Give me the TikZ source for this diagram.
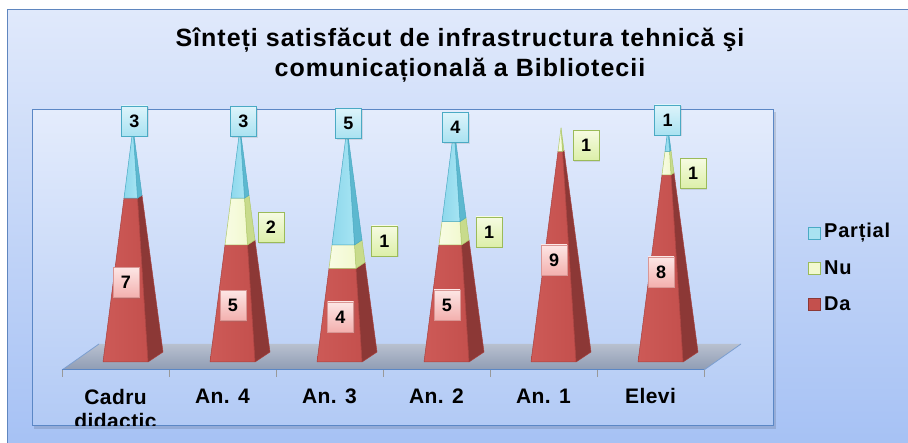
\documentclass[tikz,border=0pt]{standalone}
\usepackage{fontspec}
\setmainfont{Liberation Sans}
\newfontfamily\titlefont[LetterSpace=4]{Liberation Sans}
\newfontfamily\catfont[LetterSpace=2]{Liberation Sans}
\newfontfamily\legfont[LetterSpace=4]{Liberation Sans}
\usetikzlibrary{shadows}
\definecolor{panelTop}{HTML}{E0E9FB}
\definecolor{panelBot}{HTML}{A4C0F4}
\definecolor{panelEdge}{HTML}{5F86BF}
\definecolor{plotTop}{HTML}{E4ECFC}
\definecolor{plotBot}{HTML}{B2CAF5}
\definecolor{plotEdge}{HTML}{5B87C5}
\definecolor{floorTop}{HTML}{B8C0CF}
\definecolor{floorBot}{HTML}{8F9CB4}
\definecolor{daF}{HTML}{C4504D}
\definecolor{daFL}{HTML}{CD5A57}
\definecolor{daS}{HTML}{8C3836}
\definecolor{daE}{HTML}{A8413E}
\definecolor{nuF}{HTML}{F2F9CF}
\definecolor{nuFL}{HTML}{F8FCE4}
\definecolor{nuS}{HTML}{C8DB8C}
\definecolor{nuE}{HTML}{B0C96A}
\definecolor{paF}{HTML}{A6E4F3}
\definecolor{paFL}{HTML}{8ED8EC}
\definecolor{paS}{HTML}{5DB8CF}
\definecolor{paE}{HTML}{4AAAC4}
\definecolor{paL1}{HTML}{DDF4FB}
\definecolor{paL2}{HTML}{A9E2F1}
\definecolor{nuL1}{HTML}{F6FBE2}
\definecolor{nuL2}{HTML}{DCEFA8}
\definecolor{nuB}{HTML}{9BBB59}
\definecolor{daL1}{HTML}{FDE6E5}
\definecolor{daL2}{HTML}{F3B0AE}
\definecolor{daB}{HTML}{D99694}
% #1 axis x, #2 t0, #3 t1, #4 front left colour, #5 front right colour, #6 side, #7 edge
\newcommand\pyrseg[7]{%
  \filldraw[fill=#6, draw=#7, line width=0.5pt, line join=round]
    ({#1+15*(1-#2)},{362-234*#2}) -- ({#1+30*(1-#2)},{352-224*#2})
    -- ({#1+30*(1-#3)},{352-224*#3}) -- ({#1+15*(1-#3)},{362-234*#3}) -- cycle;
  \path[left color=#4, right color=#5]
    ({#1-30*(1-#2)},{362-234*#2}) -- ({#1+15*(1-#2)},{362-234*#2})
    -- ({#1+15*(1-#3)},{362-234*#3}) -- ({#1-30*(1-#3)},{362-234*#3}) -- cycle;
  \draw[draw=#7, line width=0.5pt, line join=round]
    ({#1-30*(1-#2)},{362-234*#2}) -- ({#1+15*(1-#2)},{362-234*#2})
    -- ({#1+15*(1-#3)},{362-234*#3}) -- ({#1-30*(1-#3)},{362-234*#3}) -- cycle;
}
\tikzset{
  lbl/.style={minimum width=26pt, minimum height=30pt, inner sep=0pt,
    font=\fontsize{18}{18}\selectfont\bfseries, line width=0.8pt,
    drop shadow={shadow xshift=1.2pt, shadow yshift=-1.2pt, opacity=0.2}},
  lblpa/.style={lbl, draw=paE, top color=paL1, bottom color=paL2},
  lblnu/.style={lbl, draw=nuB, top color=nuL1, bottom color=nuL2},
  lblda/.style={lbl, draw=daB, top color=daL1, bottom color=daL2},
  catlbl/.style={font=\catfont\bfseries\fontsize{21}{24}\selectfont, inner sep=0pt, align=center},
  legbox/.style={minimum size=12pt, inner sep=0pt, line width=0.8pt},
  legtxt/.style={font=\legfont\bfseries\fontsize{20}{20}\selectfont, inner sep=0pt, anchor=west}
}
\begin{document}
\begin{tikzpicture}[x=1pt,y=-1pt]
\useasboundingbox (0,0) rectangle (908,443);
\clip (0,0) rectangle (908,443);
\fill[white] (0,0) rectangle (908,443);
% outer panel
\draw[panelEdge, line width=1pt, top color=panelTop, bottom color=panelBot] (7,10) rectangle (930,460);
% plot area
\fill[black, opacity=0.12] (34,112) rectangle (776,429);
\draw[plotEdge, line width=1pt, top color=plotTop, bottom color=plotBot] (32,110) rectangle (773,426);
% title
\node[font=\titlefont\bfseries\fontsize{25}{30}\selectfont, align=center, inner sep=0pt, anchor=north]
  (title) at (460,28) {Sînteți satisfăcut de infrastructura tehnică şi\\comunicațională a Bibliotecii};
% floor
\path[top color=floorTop, bottom color=floorBot] (62,370) -- (704,370) -- (741,344) -- (99,344) -- cycle;
\draw[plotEdge!80!white, line width=0.8pt] (62,370) -- (99,344) (704,370) -- (741,344);
\draw[plotEdge, line width=1pt] (62,370) -- (704,370);
\foreach \x in {62,169,276,383,490,597,704} \draw[gray!80, line width=0.8pt] (\x,370) -- (\x,377);
% pyramids
\foreach \k/\da/\nu in {0/7/0, 1/5/2, 2/4/1, 3/5/1, 4/9/1, 5/8/1} {
  \pgfmathsetmacro\ax{133+107*\k}
  \pgfmathsetmacro\ta{\da/10}
  \pgfmathsetmacro\tb{(\da+\nu)/10}
  \pyrseg{\ax}{0}{\ta}{daFL}{daF}{daS}{daE}
  \ifnum\nu>0 \pyrseg{\ax}{\ta}{\tb}{nuFL}{nuF}{nuS}{nuE}\fi
  \ifnum\numexpr\da+\nu\relax<10 \pyrseg{\ax}{\tb}{1}{paFL}{paF}{paS}{paE}\fi
}
% category labels
\begin{scope}
\clip (32,110) rectangle (773,426);
\node[catlbl] (c0) at (115.5,409) {Cadru\\didactic};
\end{scope}
\node[catlbl, anchor=base] (c1) at (222.5,403.5) {An. 4};
\node[catlbl, anchor=base] (c2) at (329.5,403.5) {An. 3};
\node[catlbl, anchor=base] (c3) at (436.5,403.5) {An. 2};
\node[catlbl, anchor=base] (c4) at (543.5,403.5) {An. 1};
\node[catlbl, anchor=base] (c5) at (650.5,403.5) {Elevi};
% data labels: Partial
\node[lblpa] (p0) at (134.5,121) {3};
\node[lblpa] (p1) at (243.5,121.5) {3};
\node[lblpa] (p2) at (348.5,123.5) {5};
\node[lblpa] (p3) at (455.5,127.5) {4};
\node[lblpa] (p5) at (667.5,120) {1};
% data labels: Nu
\node[lblnu] (n1) at (271,227.5) {2};
\node[lblnu] (n2) at (384.5,241) {1};
\node[lblnu] (n3) at (489,232) {1};
\node[lblnu] (n4) at (586,145.5) {1};
\node[lblnu] (n5) at (693,173.5) {1};
% data labels: Da
\node[lblda] (d0) at (126,282.5) {7};
\node[lblda] (d1) at (233,305.5) {5};
\node[lblda] (d2) at (340.5,317) {4};
\node[lblda] (d3) at (447,305) {5};
\node[lblda] (d4) at (554,260) {9};
\node[lblda] (d5) at (661,272) {8};
% legend
\node[legbox, draw=paE, fill=paL2] (lp) at (814,233) {};
\node[legtxt] (tp) at (824,233) {Parțial};
\node[legbox, draw=nuB, fill=nuF] (ln) at (814,268) {};
\node[legtxt] (tn) at (824,268) {Nu};
\node[legbox, draw=daS, fill=daF] (ld) at (814,304) {};
\node[legtxt] (td) at (824,304) {Da};
\end{tikzpicture}
\end{document}
